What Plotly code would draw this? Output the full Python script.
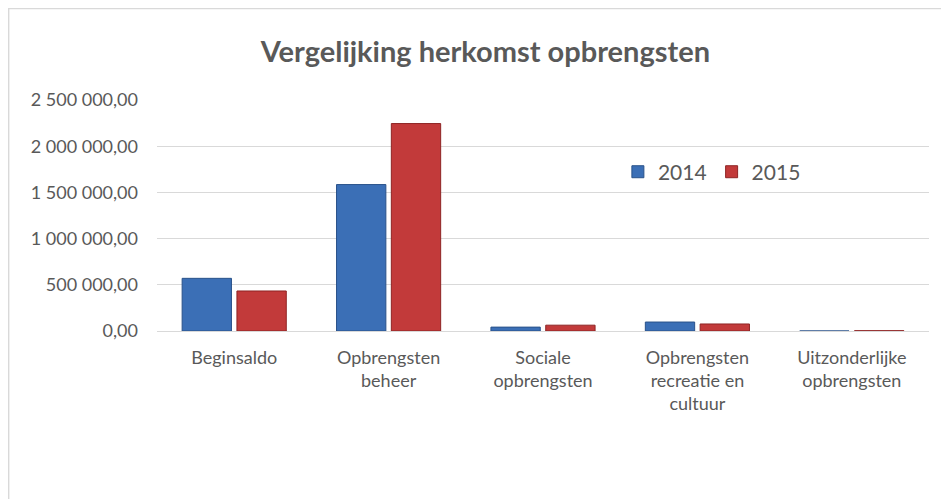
import plotly.graph_objects as go

categories = ["Beginsaldo", "Opbrengsten<br>beheer", "Sociale<br>opbrengsten",
              "Opbrengsten<br>recreatie en<br>cultuur", "Uitzonderlijke<br>opbrengsten"]
values_2014 = [570000, 1585000, 42000, 97000, 0]
values_2015 = [433000, 2245000, 63000, 76000, 3000]
tick_values = [0, 500000, 1000000, 1500000, 2000000, 2500000]
tick_labels = ["0,00", "500 000,00", "1 000 000,00", "1 500 000,00", "2 000 000,00", "2 500 000,00"]

FONT = "Lato"
GREY = "#595959"

fig = go.Figure()
fig.add_trace(go.Bar(name="2014", x=categories, y=values_2014,
                     marker=dict(color="#3B6FB6", line=dict(color="#2A528A", width=1))))
fig.add_trace(go.Bar(name="2015", x=categories, y=values_2015,
                     marker=dict(color="#C23A3A", line=dict(color="#8E2424", width=1))))

fig.update_layout(
    width=949, height=499,
    margin=dict(l=149, r=28, t=92, b=176),
    paper_bgcolor="white", plot_bgcolor="white",
    barmode="group", bargap=0.29, bargroupgap=0.1,
    title=dict(text="<b>Vergelijking herkomst opbrengsten</b>", x=0.503, xanchor="center",
               y=0.912, yanchor="middle", font=dict(family=FONT, size=29, color=GREY)),
    font=dict(family=FONT, size=18, color=GREY),
    legend=dict(orientation="h", x=0.597, y=0.688, xanchor="left", yanchor="middle",
                font=dict(size=21, color=GREY), bgcolor="rgba(0,0,0,0)",
                itemwidth=30, tracegroupgap=0),
    xaxis=dict(showgrid=False, showline=True, linecolor="#d9d9d9", linewidth=1,
               ticks="", ticklabelstandoff=10, tickfont=dict(size=18, color=GREY)),
    yaxis=dict(range=[0, 2500000], tickvals=tick_values, ticktext=tick_labels,
               showgrid=True, gridcolor="#d9d9d9", gridwidth=1, zeroline=False,
               showline=False, ticks="", ticklabelstandoff=18,
               tickfont=dict(size=18, color=GREY)),
    shapes=[dict(type="rect", xref="paper", yref="paper",
                 x0=-0.1925, x1=1.06, y0=-0.75, y1=1.397,
                 line=dict(color="#d9d9d9", width=2), fillcolor="rgba(0,0,0,0)", layer="below")],
)

fig.write_html("out.html")
